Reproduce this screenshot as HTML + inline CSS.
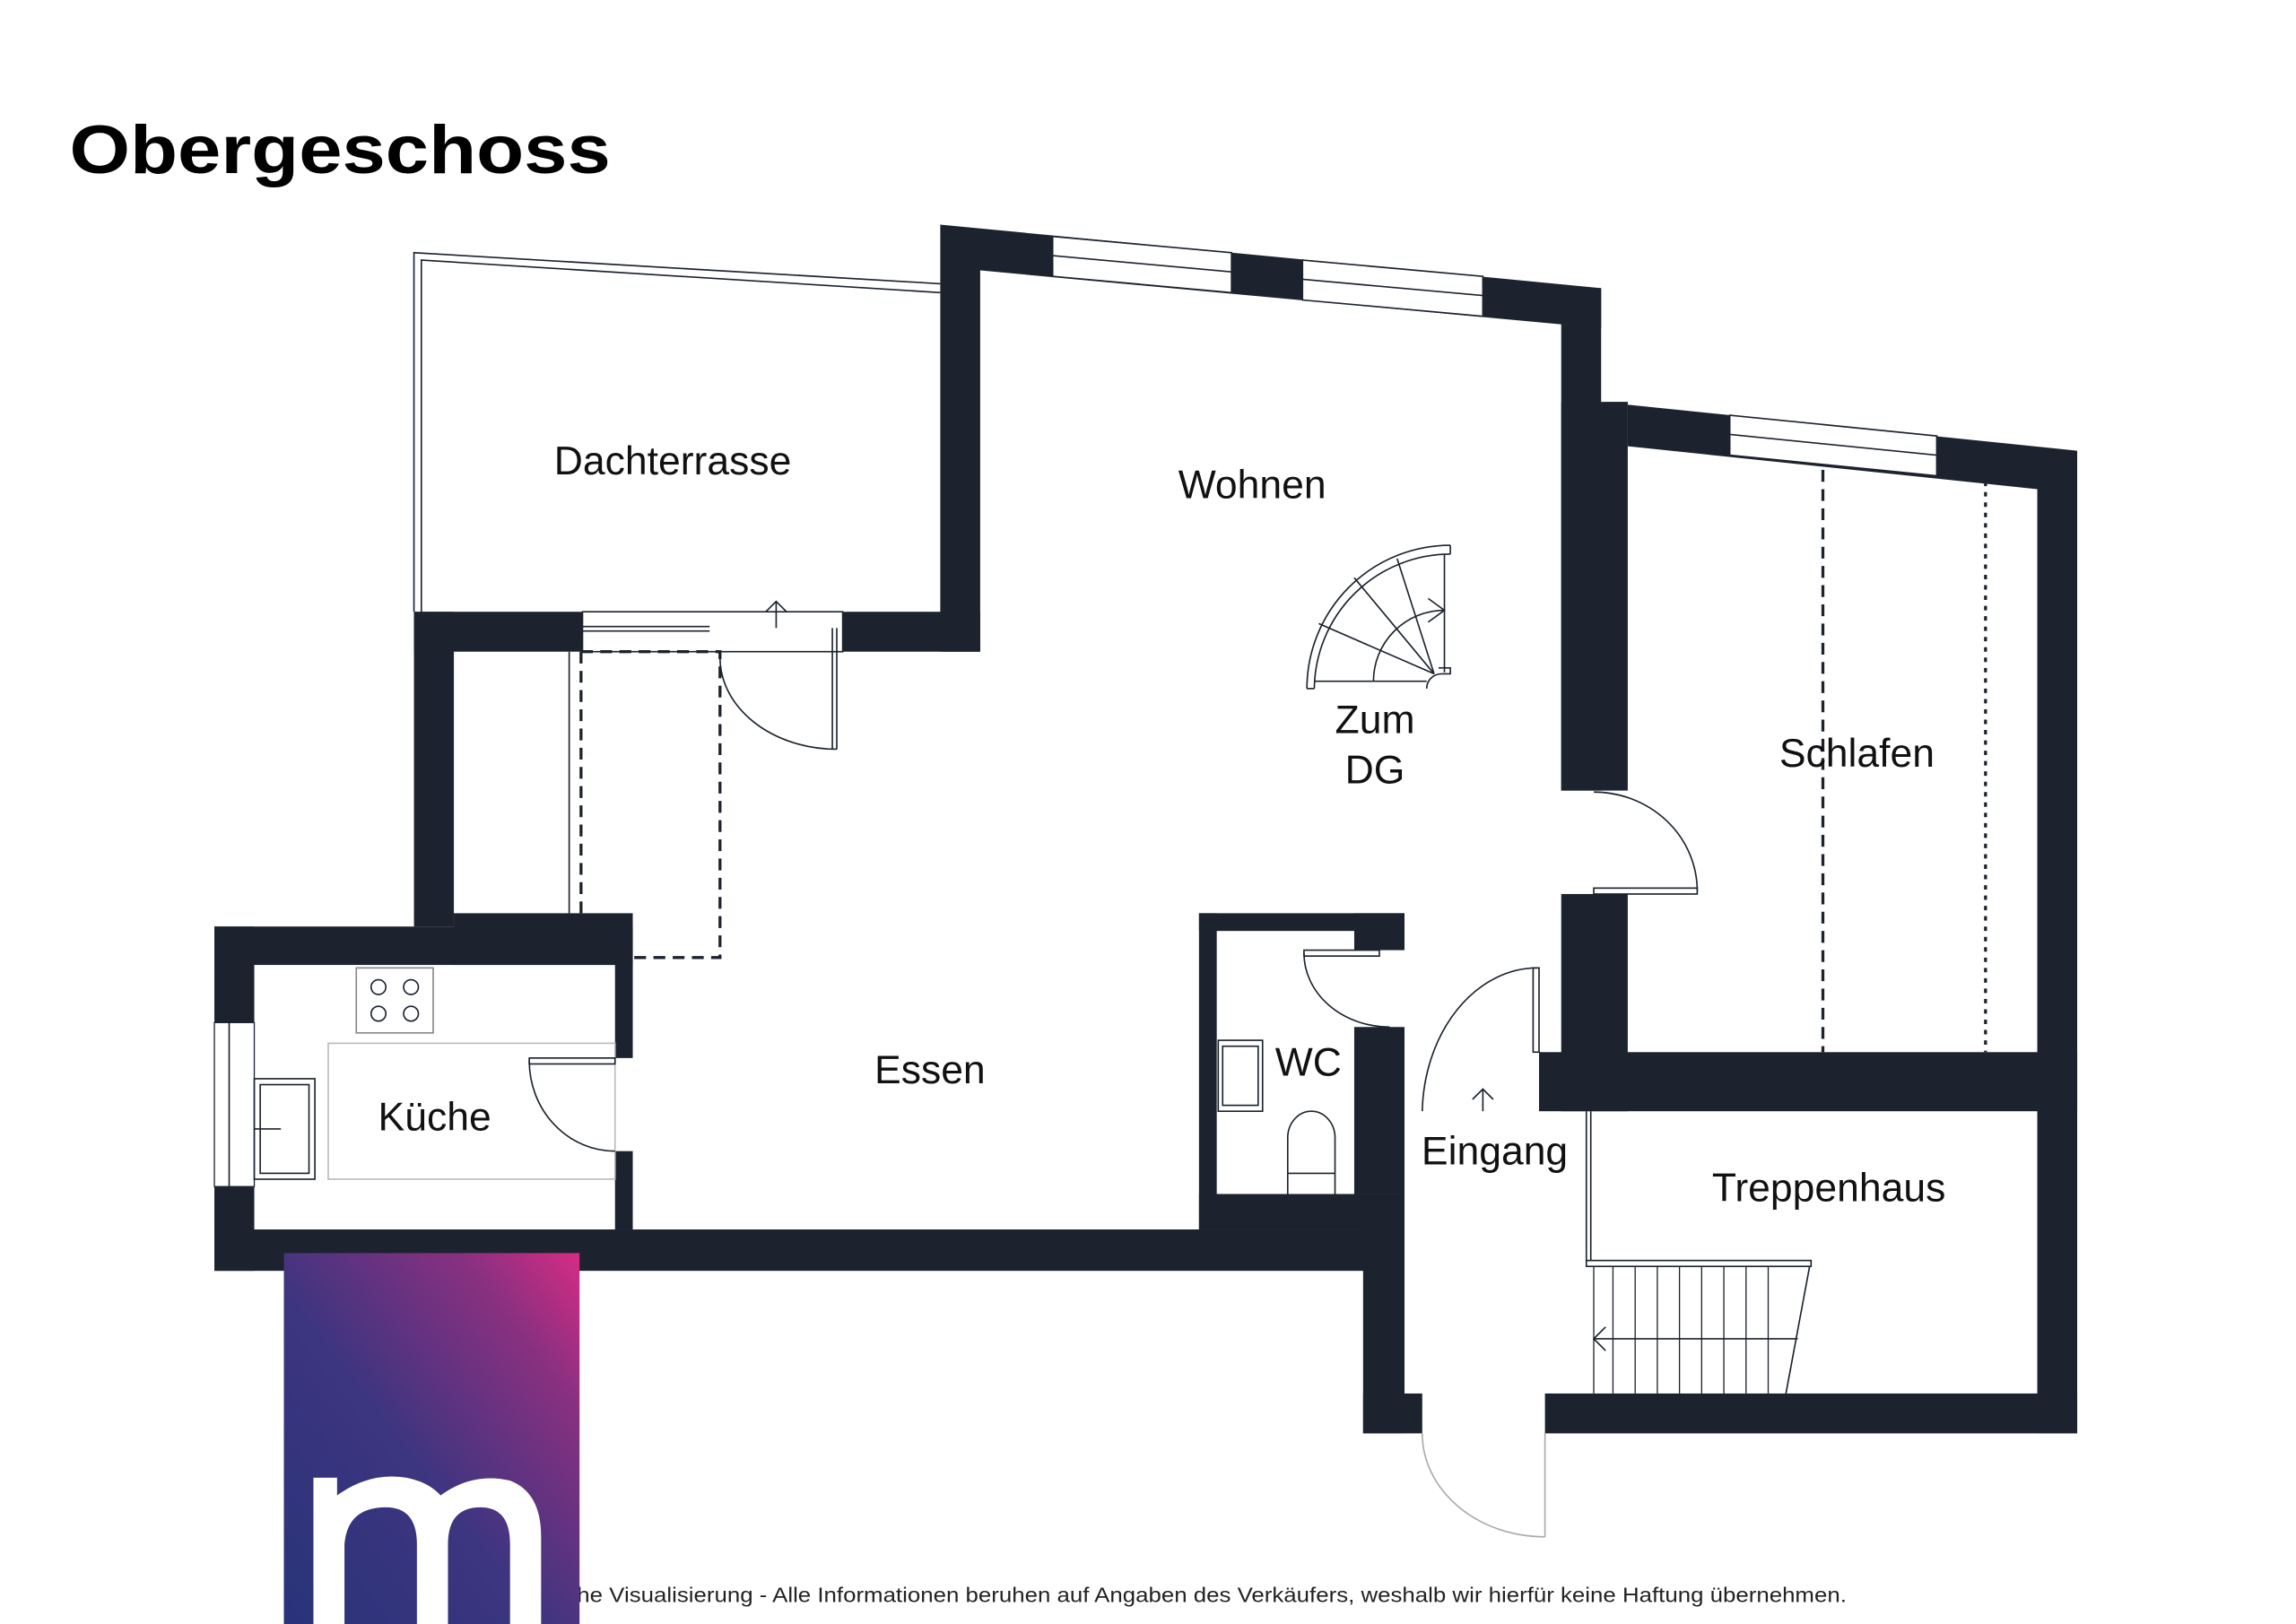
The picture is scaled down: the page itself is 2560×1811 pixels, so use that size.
<!DOCTYPE html>
<html><head><meta charset="utf-8"><style>
html,body{margin:0;padding:0;background:#fff}
svg{display:block}
text{font-family:"Liberation Sans",sans-serif}
</style></head><body>
<svg width="2560" height="1811" viewBox="0 0 1553 1099" preserveAspectRatio="none" xmlns="http://www.w3.org/2000/svg">
<defs>
<linearGradient id="g" x1="0" y1="1" x2="1" y2="0">
<stop offset="0" stop-color="#283378"/><stop offset="0.45" stop-color="#3d3580"/><stop offset="0.8" stop-color="#8a3080"/><stop offset="1" stop-color="#d62c84"/>
</linearGradient>
</defs>
<text x="47" y="117" font-size="46" font-weight="bold" textLength="366" lengthAdjust="spacingAndGlyphs">Obergeschoss</text>

<!-- terrace outline -->
<g fill="none" stroke="#1c232e" stroke-width="1">
<polyline points="280,414 280,171 636,192"/>
<polyline points="285,414 285,176 636,198"/>
</g>

<g fill="#1c232e">
<!-- Wohnen top sloped wall -->
<polygon points="636,152 1083,195 1083,222 663,183 663,441 636,441"/>
<!-- bottom of Wohnen left -->
<rect x="570" y="414" width="93" height="27"/>
<rect x="280" y="414" width="114" height="27"/>
<rect x="280" y="414" width="27" height="213"/>
<!-- Kueche -->
<rect x="307" y="618" width="121" height="35"/>
<rect x="145" y="627" width="283" height="26"/>
<rect x="145" y="627" width="27" height="65"/>
<rect x="145" y="803" width="27" height="57"/>
<rect x="416" y="627" width="12" height="89"/>
<rect x="416" y="779" width="12" height="53"/>
<rect x="145" y="832" width="805" height="28"/>
<rect x="922" y="832" width="28" height="138"/>
<rect x="922" y="943" width="40" height="27"/>
<!-- WC -->
<rect x="811" y="618" width="12" height="214"/>
<rect x="811" y="618" width="139" height="12"/>
<rect x="916" y="618" width="34" height="25"/>
<rect x="916" y="695" width="34" height="113"/>
<rect x="811" y="808" width="139" height="24"/>
<!-- right block -->
<rect x="1056" y="195" width="27" height="340"/>
<rect x="1056" y="272" width="45" height="263"/>
<polygon points="1083,272 1405,305 1405,970 1378,970 1378,331 1101,302 1101,272"/>
<rect x="1056" y="605" width="45" height="147"/>
<rect x="1041" y="712" width="364" height="40"/>
<rect x="1045" y="943" width="360" height="27"/>
</g>

<!-- windows -->
<g fill="#fff" stroke="#1c232e" stroke-width="1">
<polygon points="712,160 833,171 833,198 712,187"/>
<polygon points="881,176 1003,187 1003,214 881,203"/>
<polygon points="1170,281 1310,295 1310,322 1170,308"/>
<rect x="145" y="692" width="27" height="111" stroke-width="0.8"/>
<rect x="394" y="414" width="176" height="27"/>
</g>
<g stroke="#1c232e" stroke-width="1" fill="none">
<line x1="712" y1="173" x2="833" y2="184"/>
<line x1="881" y1="189" x2="1003" y2="200"/>
<line x1="1170" y1="294" x2="1310" y2="308"/>
<line x1="155" y1="692" x2="155" y2="803"/>
<line x1="394" y1="424" x2="480" y2="424"/>
<line x1="394" y1="427" x2="480" y2="427"/>
<!-- terrace door -->
<line x1="525" y1="425" x2="525" y2="407"/>
<polyline points="518,414 525,407 532,414"/>
<path d="M487,445 A79,62 0 0 0 566,507"/>
<line x1="566" y1="425" x2="566" y2="507"/>
<line x1="563" y1="425" x2="563" y2="507"/>
<!-- dashed -->
<polyline points="393,441 393,618" stroke-dasharray="8,5" stroke-width="2"/>
<polyline points="393,441 487,441 487,648 428,648" stroke-dasharray="8,5" stroke-width="2"/>
<line x1="385" y1="441" x2="385" y2="618"/>
<line x1="1233" y1="318" x2="1233" y2="712" stroke-dasharray="8,5" stroke-width="2"/>
<line x1="1343" y1="326" x2="1343" y2="712" stroke-dasharray="3,4" stroke-width="2"/>
<!-- spiral stair -->
<path d="M884,466 A97,97 0 0 1 981,369"/>
<path d="M889,466 A92,92 0 0 1 981,375"/>
<line x1="981" y1="369" x2="981" y2="375"/>
<line x1="884" y1="466" x2="889" y2="466"/>
<line x1="977" y1="375" x2="977" y2="455"/>
<line x1="889" y1="461" x2="965" y2="461"/>
<path d="M965,466 A10,10 0 0 1 975,456 L981,456 L981,452 L973,452"/>
<line x1="970" y1="456" x2="892" y2="422"/>
<line x1="970" y1="456" x2="916" y2="391"/>
<line x1="970" y1="456" x2="945" y2="378"/>
<path d="M929,461 A48,48 0 0 1 977,413"/>
<polyline points="966,405 977,413 966,421"/>
<!-- bedroom door -->
<path d="M1078,536 A70,67 0 0 1 1148,603"/>
<rect x="1078" y="601" width="70" height="4"/>
<!-- kitchen -->
<rect x="222" y="706" width="194" height="92" stroke="#bbb"/>
<rect x="241" y="655" width="52" height="44" stroke="#888"/>
<circle cx="256" cy="668" r="5"/><circle cx="278" cy="668" r="5"/>
<circle cx="256" cy="686" r="5"/><circle cx="278" cy="686" r="5"/>
<rect x="172" y="730" width="41" height="68"/>
<rect x="176" y="734" width="33" height="60"/>
<line x1="172" y1="764" x2="190" y2="764"/>
<path d="M358,718 A58,61 0 0 0 416,779"/>
<rect x="358" y="716" width="58" height="4"/>
<!-- WC -->
<path d="M882,645 A58,50 0 0 0 940,695"/>
<rect x="882" y="643" width="51" height="4"/>
<rect x="824" y="704" width="30" height="48"/>
<rect x="827" y="708" width="24" height="40"/>
<path d="M871,808 L871,770 A16,18 0 0 1 903,770 L903,808"/>
<line x1="871" y1="794" x2="903" y2="794"/>
<!-- entrance -->
<path d="M1040,655 A78,100 0 0 0 962,752"/>
<rect x="1037" y="655" width="4" height="57"/>
<line x1="1003" y1="752" x2="1003" y2="737"/>
<polyline points="996,744 1003,737 1010,744"/>
<path d="M962,970 A83,70 0 0 0 1045,1040" stroke="#aaa"/>
<line x1="1045" y1="970" x2="1045" y2="1040" stroke="#aaa"/>
<!-- Treppenhaus -->
<line x1="1073" y1="752" x2="1073" y2="853"/>
<line x1="1076" y1="752" x2="1076" y2="853"/>
<rect x="1073" y="853" width="152" height="4"/>
<line x1="1224" y1="857" x2="1208" y2="943"/>
<g stroke-width="0.8">
<line x1="1091" y1="857" x2="1091" y2="943"/><line x1="1106" y1="857" x2="1106" y2="943"/>
<line x1="1121" y1="857" x2="1121" y2="943"/><line x1="1136" y1="857" x2="1136" y2="943"/>
<line x1="1151" y1="857" x2="1151" y2="943"/><line x1="1166" y1="857" x2="1166" y2="943"/>
<line x1="1181" y1="857" x2="1181" y2="943"/><line x1="1196" y1="857" x2="1196" y2="943"/>
<line x1="1078" y1="857" x2="1078" y2="943"/>
</g>
<line x1="1078" y1="906" x2="1216" y2="906"/>
<polyline points="1086,898 1078,906 1086,914"/>
</g>

<g font-size="27" fill="#111">
<text x="455" y="321" text-anchor="middle">Dachterrasse</text>
<text x="847" y="337" text-anchor="middle">Wohnen</text>
<text x="930" y="496" text-anchor="middle">Zum</text>
<text x="930" y="530" text-anchor="middle">DG</text>
<text x="1256" y="519" text-anchor="middle">Schlafen</text>
<text x="629" y="733" text-anchor="middle">Essen</text>
<text x="294" y="765" text-anchor="middle">Küche</text>
<text x="885" y="728" text-anchor="middle">WC</text>
<text x="1011" y="788" text-anchor="middle">Eingang</text>
<text x="1237" y="813" text-anchor="middle">Treppenhaus</text>
</g>

<text x="1249" y="1084" font-size="14" text-anchor="end" fill="#222" textLength="945" lengthAdjust="spacingAndGlyphs">Unverbindliche Visualisierung - Alle Informationen beruhen auf Angaben des Verkäufers, weshalb wir hierfür keine Haftung übernehmen.</text>

<rect x="192" y="848" width="200" height="261" fill="url(#g)"/>
<path d="M212,1109 L212,1000 L228,1000 L228,1012 Q250,996 275,1000 Q290,1003 298,1012 Q320,996 345,1002 Q366,1010 366,1040 L366,1109 L345,1109 L345,1045 Q345,1020 325,1020 Q303,1020 303,1045 L303,1109 L282,1109 L282,1045 Q282,1020 261,1020 Q235,1020 233,1045 L233,1109 Z" fill="#fff"/>
</svg>
</body></html>
